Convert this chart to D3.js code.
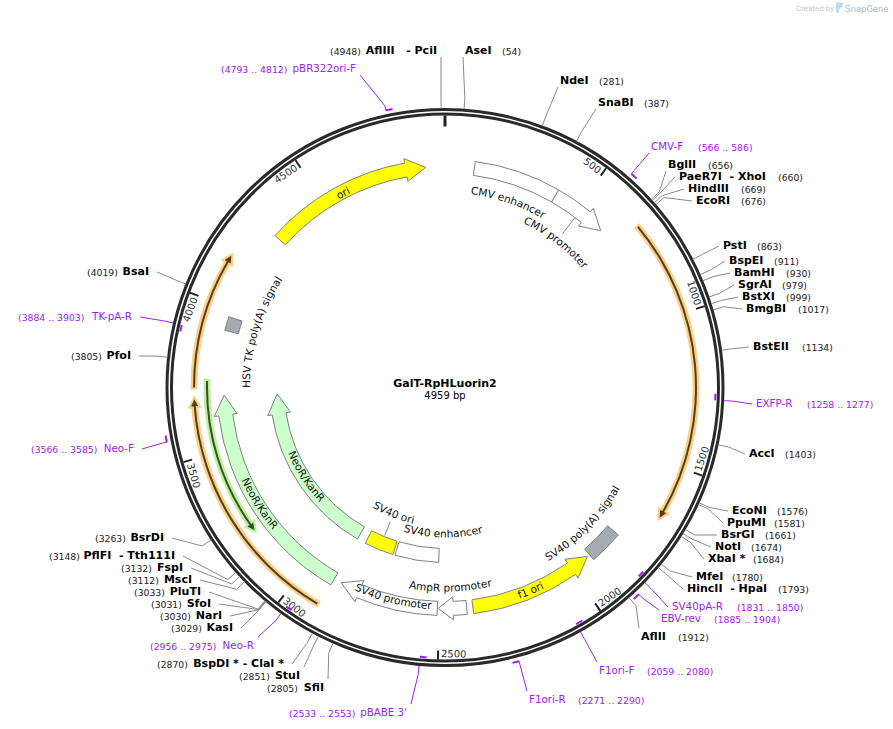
<!DOCTYPE html>
<html lang="en">

<head>
    <meta charset="UTF-8">
    <title>GalT-RpHLuorin2</title>
    <script src="https://d3js.org/d3.v7.min.js"></script>
    <style>
        body { margin: 0; background: #fff; }
        svg { display: block; }
        text { font-family: "DejaVu Sans", sans-serif; white-space: pre; }
    </style>
</head>

<body>
    <svg id="map" width="893" height="729"></svg>

    <script>
        const plasmidName = "GalT-RpHLuorin2";
        const plasmidLength = 4959;
        const rulerTicks = [500, 1000, 1500, 2000, 2500, 3000, 3500, 4000, 4500];

        // restriction sites, name then cut position
        const rightSites = [
            ["AseI", 54], ["NdeI", 281], ["SnaBI", 387], ["BglII", 656],
            ["PaeR7I  - XhoI", 660], ["HindIII", 669], ["EcoRI", 676], ["PstI", 863],
            ["BspEI", 911], ["BamHI", 930], ["SgrAI", 979], ["BstXI", 999],
            ["BmgBI", 1017], ["BstEII", 1134], ["AccI", 1403], ["EcoNI", 1576],
            ["PpuMI", 1581], ["BsrGI", 1661], ["NotI", 1674], ["XbaI *", 1684],
            ["MfeI", 1780], ["HincII  - HpaI", 1793], ["AflII", 1912]
        ];
        const leftSites = [
            ["AflIII   - PciI", 4948], ["BsaI", 4019], ["PfoI", 3805], ["BsrDI", 3263],
            ["PflFI  - Tth111I", 3148], ["FspI", 3132], ["MscI", 3112], ["PluTI", 3033],
            ["SfoI", 3031], ["NarI", 3030], ["KasI", 3029], ["BspDI * - ClaI *", 2870],
            ["StuI", 2851], ["SfiI", 2805]
        ];

        // primers: name, start, end
        const rightPrimers = [
            ["CMV-F", 566, 586], ["EXFP-R", 1258, 1277], ["SV40pA-R", 1831, 1850],
            ["EBV-rev", 1885, 1904], ["F1ori-F", 2059, 2080], ["F1ori-R", 2271, 2290]
        ];
        const leftPrimers = [
            ["pBR322ori-F", 4793, 4812], ["TK-pA-R", 3884, 3903], ["Neo-F", 3566, 3585],
            ["Neo-R", 2956, 2975], ["pBABE 3'", 2533, 2553]
        ];
        // these sit inside the ring, the others outside
        const innerPrimers = ["EXFP-R", "SV40pA-R", "F1ori-F", "TK-pA-R", "Neo-R", "pBABE 3'"];

        // directional features: name, from (tail), to (tip), kind
        const arrowFeatures = [
            ["ori", 4295, 4890, "ori"],
            ["CMV promoter", 412, 617, "plain"],
            ["f1 ori", 2380, 1927, "ori"],
            ["AmpR promoter", 2402, 2504, "plain"],
            ["SV40 promoter", 2507, 2865, "plain"],
            ["NeoR/KanR", 2893, 3692, "neo"],
            ["NeoR/KanR", 2893, 3689, "neoInner"]
        ];
        // blocks without a direction: name, start, end, kind
        const blockFeatures = [
            ["CMV enhancer", 105, 412, "plain"],
            ["SV40 enhancer", 2508, 2708, "plainInner"],
            ["SV40 ori", 2718, 2853, "oriInner"],
            ["SV40 poly(A) signal", 1796, 1917, "term"],
            ["HSV TK poly(A) signal", 3920, 3969, "term"]
        ];
        // thin highlighted arrows: from, to, kind
        const thinFeatures = [
            [692, 1670, "orange"],
            [2901, 3682, "orange"],
            [3719, 4155, "orange"],
            [3741, 3212, "green"]
        ];

        // ---- layout below, nothing from here on is a value of the map ----
        const cx = 445, cy = 387.5;
        const outerRing = 278, innerRing = 273.5;
        const styles = {
            ori: { r: 221, fill: "#ffff00" },
            plain: { r: 221, fill: "#fff" },
            neo: { r: 221, fill: "#ccffcc" },
            neoInner: { r: 168, fill: "#ccffcc" },
            plainInner: { r: 168, fill: "#fff" },
            oriInner: { r: 168, fill: "#ffff00" },
            term: { r: 220.5, fill: "#a6abb2" }
        };
        const thinStyles = {
            orange: { r: 251, glow: "#fdcf85", line: "#4f3f24" },
            green: { r: 238, glow: "#bff09a", line: "#35502a" }
        };

        // label anchors in page pixels: x, y, x of the number
        const rightSiteLabels = [
            [465, 50, 502], [560, 80, 599], [598, 102, 644], [668, 164, 708],
            [679, 176, 778], [688, 188, 741], [696, 200, 741], [723, 245, 757],
            [729, 260, 774], [734, 272, 786], [738, 284, 782], [742, 296, 786],
            [746, 308, 798], [753, 346, 802], [749, 453, 785], [732, 510, 777],
            [727, 522, 774], [721, 534, 765], [715, 546, 751], [708, 558, 753],
            [696, 576, 732], [687, 588, 778], [641, 636, 678]
        ];
        const leftSiteLabels = [
            [437, 50, 330], [149, 271, 87], [131, 355, 71], [164, 537, 95],
            [175, 555, 49], [183, 567, 121], [192, 579, 128], [201, 591, 134],
            [211, 603, 151], [222, 615, 160], [233, 627, 171], [284, 663, 157],
            [300, 675, 239], [324, 687, 267]
        ];
        const rightPrimerLabels = [
            [651, 146, 698], [756, 403, 807], [672, 606, 737],
            [661, 618, 714], [599, 670, 647], [529, 699, 578]
        ];
        const leftPrimerLabels = [
            [356, 68, 221], [132, 316, 18], [134, 448, 31],
            [254, 645, 150], [407, 712, 289]
        ];
        // curved captions: text, middle position, radius
        const captions = [
            ["CMV enhancer", 259, 199], ["CMV promoter", 515, 186],
            ["AmpR promoter", 2458, 200], ["SV40 enhancer", 2490, 146],
            ["SV40 ori", 2785, 136], ["SV40 poly(A) signal", 1855, 198],
            ["HSV TK poly(A) signal", 3950, 199]
        ];
        const inlineCaptions = [
            ["ori", 4578, 220], ["f1 ori", 2165, 220], ["SV40 promoter", 2670, 218],
            ["NeoR/KanR", 3278, 219.5], ["NeoR/KanR", 3270, 166]
        ];
        const captionLeaders = [[515, 214, 193], [2785, 160, 145]];

        const svg = d3.select("#map");
        const g = svg.append("g").attr("transform", `translate(${cx},${cy})`);

        const x = d3.scaleLinear().domain([0, plasmidLength]).range([0, 2 * Math.PI]);
        const pt = (r, a) => d3.pointRadial(a, r);
        const toLocal = (px, py) => [px - cx, py - cy];

        function arrowPath(from, to, r, halfW, headHalf, headLen) {
            const a0 = x(from), a1 = x(to);
            const dir = a1 > a0 ? 1 : -1;
            const h = a1 - dir * headLen / r;
            const p = d3.path();
            p.moveTo(...pt(r + halfW, a0));
            p.arc(0, 0, r + halfW, a0 - Math.PI / 2, h - Math.PI / 2, dir < 0);
            p.lineTo(...pt(r + headHalf, h));
            p.lineTo(...pt(r, a1));
            p.lineTo(...pt(r - headHalf, h));
            p.lineTo(...pt(r - halfW, h));
            p.arc(0, 0, r - halfW, h - Math.PI / 2, a0 - Math.PI / 2, dir > 0);
            p.closePath();
            return p.toString();
        }

        // thin arrows first, they sit on their own track
        thinFeatures.forEach(([from, to, kind]) => {
            const s = thinStyles[kind];
            g.append("path")
                .attr("d", arrowPath(from, to, s.r, 1.5, 3.8, 7))
                .attr("fill", s.glow)
                .attr("stroke", s.glow)
                .attr("stroke-width", 4)
                .attr("stroke-linejoin", "miter");
            g.append("path")
                .attr("d", arrowPath(from, to, s.r, 1, 3.5, 7))
                .attr("fill", s.line);
        });

        // blocks
        const arc = d3.arc();
        blockFeatures.forEach(([name, start, end, kind]) => {
            const s = styles[kind];
            g.append("path")
                .attr("d", arc({
                    innerRadius: s.r - 7,
                    outerRadius: s.r + 7,
                    startAngle: x(start),
                    endAngle: x(end)
                }))
                .attr("fill", s.fill)
                .attr("stroke", "#808080");
        });

        // arrows
        arrowFeatures.forEach(([name, from, to, kind]) => {
            const s = styles[kind];
            const headLen = name === "AmpR promoter" ? 15 : 20;
            g.append("path")
                .attr("d", arrowPath(from, to, s.r, 7, 11.5, headLen))
                .attr("fill", s.fill)
                .attr("stroke", "#808080");
        });

        // ring
        [outerRing, innerRing].forEach(r => {
            g.append("circle")
                .attr("r", r)
                .attr("fill", "none")
                .attr("stroke", "#2a2a2a")
                .attr("stroke-width", 3);
        });

        // zero mark and ruler
        g.append("line")
            .attr("x1", 0).attr("x2", 0)
            .attr("y1", -272).attr("y2", -261)
            .attr("stroke", "#222")
            .attr("stroke-width", 3);

        rulerTicks.forEach(bp => {
            const a = x(bp);
            const [x1, y1] = pt(272, a), [x2, y2] = pt(263, a);
            g.append("line")
                .attr("x1", x1).attr("y1", y1)
                .attr("x2", x2).attr("y2", y2)
                .attr("stroke", "#222")
                .attr("stroke-width", 2);

            const deg = a * 180 / Math.PI;
            const top = deg < 90 || deg > 270;
            g.append("text")
                .attr("transform", top
                    ? `rotate(${deg}) translate(-3,-266)`
                    : `rotate(${deg - 180}) translate(3,266)`)
                .attr("text-anchor", top ? "end" : "start")
                .attr("dominant-baseline", "central")
                .attr("font-size", 10)
                .attr("fill", "#333")
                .text(bp);
        });

        // leader from the ring out to the label
        function leader(bp, startR, elbowR, lx, ly, side, color) {
            const a = x(bp);
            const elbow = pt(elbowR, a);
            const [px, py] = toLocal(lx, ly);
            const flat = Math.abs(px - elbow[0]) > Math.abs(py - elbow[1]);
            const end = flat
                ? [px + (side > 0 ? -4 : 8), py + 1]
                : [px + (side > 0 ? -2 : 4), py + (py > elbow[1] ? -8 : 7)];
            g.append("path")
                .attr("d", d3.line()([pt(startR, a), elbow, end]))
                .attr("fill", "none")
                .attr("stroke", color)
                .attr("stroke-width", 1);
        }

        function siteLabels(list, anchors, side) {
            list.forEach(([name, bp], i) => {
                const [lx, ly, nx] = anchors[i];
                leader(bp, 279, 290, lx, ly, side, "#8a8a8a");
                svg.append("text")
                    .attr("x", lx).attr("y", ly)
                    .attr("text-anchor", side > 0 ? "start" : "end")
                    .attr("dominant-baseline", "central")
                    .attr("font-size", 11)
                    .attr("font-weight", "bold")
                    .attr("fill", "#000")
                    .text(name);
                svg.append("text")
                    .attr("x", nx).attr("y", ly + 1)
                    .attr("dominant-baseline", "central")
                    .attr("font-size", 9.3)
                    .attr("fill", "#222")
                    .text(`(${bp})`);
            });
        }
        siteLabels(rightSites, rightSiteLabels, 1);
        siteLabels(leftSites, leftSiteLabels, -1);

        function primerLabels(list, anchors, side) {
            const purple = "#a020f0";
            list.forEach(([name, start, end], i) => {
                const [lx, ly, nx] = anchors[i];
                const inner = innerPrimers.includes(name);
                const r = inner ? 270.5 : 283.5;
                // the leader leaves the 5' end, and inner ones only show outside the ring
                leader(inner ? end : start, inner ? 279.5 : r, 288, lx, ly, side, purple);
                g.append("path")
                    .attr("d", arc({
                        innerRadius: r - 1,
                        outerRadius: r + 1,
                        startAngle: x(start),
                        endAngle: x(end)
                    }))
                    .attr("fill", purple);
                svg.append("text")
                    .attr("x", lx).attr("y", ly)
                    .attr("text-anchor", side > 0 ? "start" : "end")
                    .attr("dominant-baseline", "central")
                    .attr("font-size", 10.3)
                    .attr("fill", purple)
                    .text(name);
                svg.append("text")
                    .attr("x", nx).attr("y", ly + 1)
                    .attr("dominant-baseline", "central")
                    .attr("font-size", 9.3)
                    .attr("fill", purple)
                    .text(`(${start} .. ${end})`);
            });
        }
        primerLabels(rightPrimers, rightPrimerLabels, 1);
        primerLabels(leftPrimers, leftPrimerLabels, -1);

        // short lines tying a caption to its feature
        captionLeaders.forEach(([bp, r0, r1]) => {
            g.append("path")
                .attr("d", d3.line()([pt(r0, x(bp)), pt(r1, x(bp))]))
                .attr("stroke", "#8a8a8a");
        });

        // curved text, read left to right whichever half it is on
        const defs = svg.append("defs");
        function curved(text, mid, r, id) {
            const a = x(mid);
            const deg = a * 180 / Math.PI;
            const top = deg < 90 || deg > 270;
            const span = 1.2;
            const baseR = top ? r - 4 : r + 4;
            const p = d3.path();
            const s = a - (top ? span : -span);
            const e = a + (top ? span : -span);
            p.moveTo(...pt(baseR, s));
            p.arc(0, 0, baseR, s - Math.PI / 2, e - Math.PI / 2, !top);
            defs.append("path")
                .attr("id", id)
                .attr("transform", `translate(${cx},${cy})`)
                .attr("d", p.toString());
            svg.append("text")
                .attr("font-size", 10.6)
                .attr("fill", "#111")
                .attr("text-anchor", "middle")
                .append("textPath")
                .attr("href", `#${id}`)
                .attr("startOffset", "50%")
                .text(text);
        }
        captions.concat(inlineCaptions).forEach(([text, mid, r], i) => curved(text, mid, r, `cap${i}`));

        // centre title
        svg.append("text")
            .attr("x", cx).attr("y", 383.5)
            .attr("text-anchor", "middle")
            .attr("dominant-baseline", "central")
            .attr("font-size", 11)
            .attr("font-weight", "bold")
            .text(plasmidName);
        svg.append("text")
            .attr("x", cx).attr("y", 395.5)
            .attr("text-anchor", "middle")
            .attr("dominant-baseline", "central")
            .attr("font-size", 10)
            .text(`${plasmidLength} bp`);

        // credit in the corner
        svg.append("text")
            .attr("x", 796).attr("y", 11)
            .style("font-family", "Roboto")
            .attr("font-size", 8)
            .attr("fill", "#c4c8cc")
            .text("Created by");
        svg.append("path")
            .attr("d", "M836,2 L843,3 Q843,8 839,9 L839,13 L836,12 Z")
            .attr("fill", "#b5dcf5");
        svg.append("text")
            .attr("x", 845).attr("y", 11.5)
            .style("font-family", "Roboto")
            .attr("font-size", 9.5)
            .attr("fill", "#b4bcc4")
            .text("SnapGene");
    </script>

</body>

</html>
